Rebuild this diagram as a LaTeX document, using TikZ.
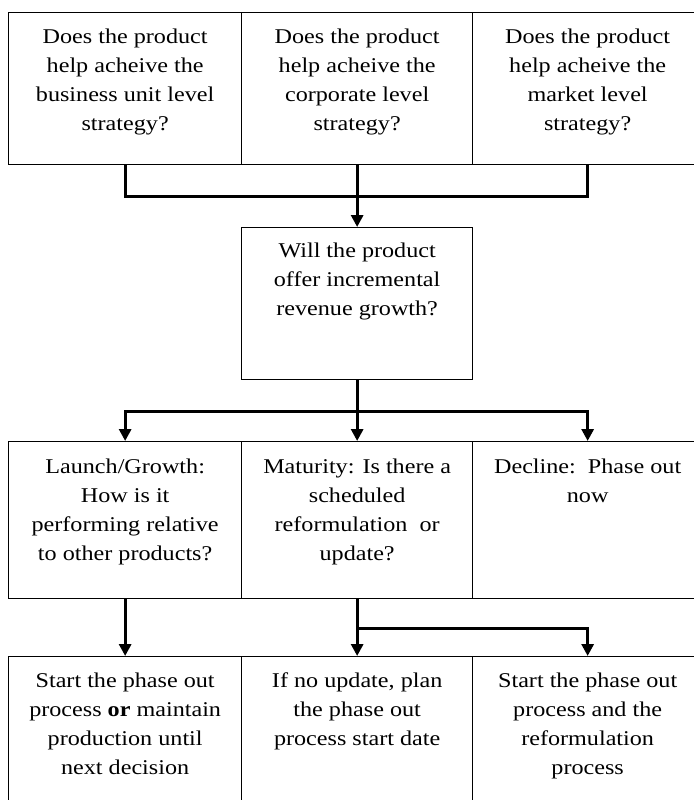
\documentclass[tikz,border=0pt]{standalone}
\usepackage{fontspec}
\setmainfont{Liberation Serif}[FakeStretch=1.15]
\usetikzlibrary{arrows.meta}
\begin{document}
\begin{tikzpicture}[x=1pt,y=1pt,
  box/.style={draw=black,line width=1.3pt,inner sep=0pt,anchor=north west,minimum height=#1},
  box/.default=152pt,
  txt/.style={anchor=north,inner sep=0pt,align=center,font=\fontsize{21}{29}\selectfont},
  conn/.style={line width=3.3pt,line join=miter,draw=black},
  arr/.style={conn,-{Triangle[length=12pt,width=12pt]}}
]
\useasboundingbox (0,0) rectangle (693,-800);
\newcommand{\fl}{\rule{0pt}{15pt}}
% row 1
\node[box,minimum width=233pt] (b1) at (8,-12) {};
\node[box,minimum width=231pt] (b2) at (241,-12) {};
\node[box,minimum width=230pt] (b3) at (472,-12) {};
\node[txt] (t1) at ([yshift=-16pt]b1.north) {\fl Does the product\\help acheive the\\business unit level\\strategy?};
\node[txt] (t2) at ([yshift=-16pt]b2.north) {\fl Does the product\\help acheive the\\corporate level\\strategy?};
\node[txt] (t3) at ([yshift=-16pt]b3.north) {\fl Does the product\\help acheive the\\market level\\strategy?};
% middle
\node[box,minimum width=231pt] (mid) at (241,-227) {};
\node[txt] (tm) at ([yshift=-15pt]mid.north) {\fl Will the product\\offer incremental\\revenue growth?};
% row 3
\node[box=157pt,minimum width=233pt] (r1) at (8,-441) {};
\node[box=157pt,minimum width=231pt] (r2) at (241,-441) {};
\node[box=157pt,minimum width=230pt] (r3) at (472,-441) {};
\node[txt] (u1) at ([yshift=-17pt]r1.north) {\fl Launch/Growth:\\How is it\\performing relative\\to other products?};
\node[txt] (u2) at ([yshift=-17pt]r2.north) {\fl Maturity: Is there a\\scheduled\\reformulation\ \ or\\update?};
\node[txt] (u3) at ([yshift=-17pt]r3.north) {\fl Decline:\ \ Phase out\\now};
% row 4
\node[box=160pt,minimum width=233pt] (s1) at (8,-656) {};
\node[box=160pt,minimum width=231pt] (s2) at (241,-656) {};
\node[box=160pt,minimum width=230pt] (s3) at (472,-656) {};
\node[txt] (v1) at ([yshift=-16pt]s1.north) {\fl Start the phase out\\process \textbf{or} maintain\\production until\\next decision};
\node[txt] (v2) at ([yshift=-16pt]s2.north) {\fl If no update, plan\\the phase out\\process start date};
\node[txt] (v3) at ([yshift=-16pt]s3.north) {\fl Start the phase out\\process and the\\reformulation\\process};
% connectors
\coordinate (j1) at ([yshift=-31pt]b2.south);
\draw[conn] (b1.south) |- (j1) -| (b3.south);
\draw[arr] (b2.south) -- (mid.north);
\coordinate (j2) at ([yshift=-31pt]mid.south);
\draw[arr] (mid.south) -- (r2.north);
\draw[arr] (j2) -| (r1.north);
\draw[arr] (j2) -| (r3.north);
\draw[arr] (r1.south) -- (s1.north);
\coordinate (j3) at ([yshift=-29pt]r2.south);
\draw[arr] (r2.south) -- (s2.north);
\draw[arr] (j3) -| (s3.north);
\end{tikzpicture}
\end{document}
